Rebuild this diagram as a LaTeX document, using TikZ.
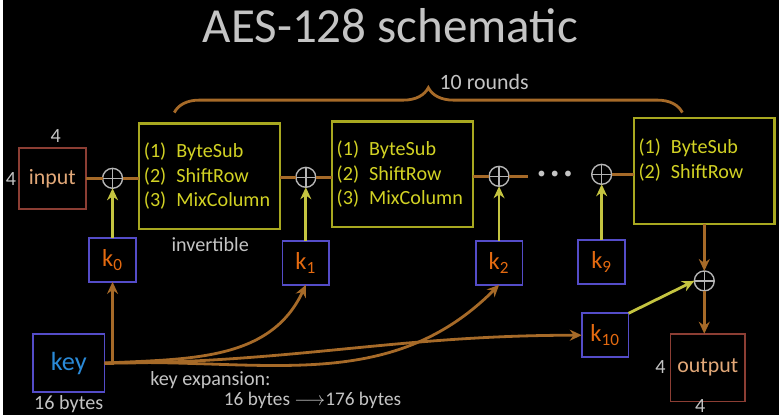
\documentclass[tikz,border=0pt]{standalone}
\usepackage{fontspec}
\setmainfont{Carlito}
\usetikzlibrary{arrows.meta,decorations.pathreplacing}
\definecolor{linkbrown}{RGB}{166,106,40}
\definecolor{arrowyellow}{RGB}{196,196,64}
\definecolor{boxred}{RGB}{140,62,52}
\definecolor{keyblue}{RGB}{84,76,200}
\definecolor{roundyellow}{RGB}{168,168,32}
\definecolor{textyellow}{RGB}{210,210,36}
\definecolor{korange}{RGB}{228,106,16}
\definecolor{keytext}{RGB}{42,138,216}
\definecolor{peach}{RGB}{226,168,120}
\definecolor{labelgray}{RGB}{196,196,196}
\definecolor{xorgray}{RGB}{180,180,180}

\begin{document}
\begin{tikzpicture}[x=0.2mm, y=-0.2mm, every node/.style={outer sep=0pt},
  statebox/.style={draw=boxred, line width=1pt, text=peach, font=\fontsize{12.5}{15}\selectfont},
  keybox/.style={draw=keyblue, line width=1pt, minimum width=9.4mm, minimum height=8.8mm, text=korange, font=\fontsize{14}{16}\selectfont},
  roundbox/.style={draw=roundyellow, line width=1.2pt, minimum width=28.2mm, minimum height=21.2mm, inner xsep=0.6mm, text width=26.4mm, align=flush left, text=textyellow, font=\fontsize{11.5}{14}\selectfont, execute at begin node={\hyphenpenalty=10000 }},
  xorop/.style={circle, draw=xorgray, line width=0.8pt, minimum size=4mm, path picture={
    \draw[xorgray, line width=0.8pt] (path picture bounding box.north) -- (path picture bounding box.south)
      (path picture bounding box.west) -- (path picture bounding box.east);}},
  link/.style={draw=linkbrown, line width=1.6pt},
  keyarrow/.style={draw=arrowyellow, line width=1.6pt, -{Stealth[length=2.4mm, width=2.2mm]}},
  keylink/.style={draw=linkbrown, line width=1.6pt, -{Stealth[length=2.4mm, width=2.2mm]}},
  note/.style={text=labelgray, font=\fontsize{11.5}{14}\selectfont}]
\fill[black] (0,0) rectangle (779,417);

\node[text=labelgray, font=\fontsize{28}{32}\selectfont] (title) at (389,26) {AES-128 schematic};

\node[statebox, minimum width=13.4mm, minimum height=12.2mm] (input) at (49.5,179) {input};
\node[note] (inrows) at (8,180) {4};
\node[note] (incols) at (53,137) {4};

\node[xorop] (x1) at (110,179) {};
\node[roundbox] (r1) at (207.5,177) {(1)\hspace{0.5em}ByteSub\\(2)\hspace{0.5em}ShiftRow\\(3)\hspace{0.5em}MixColumn};
\node[note] (inv) at (208,246) {invertible};
\node[xorop] (x2) at (304,178) {};
\node[roundbox] (r2) at (401,175) {(1)\hspace{0.5em}ByteSub\\(2)\hspace{0.5em}ShiftRow\\(3)\hspace{0.5em}MixColumn};
\node[xorop] (x3) at (498,177) {};
\coordinate (x3end) at (527,177);
\node[note, font=\fontsize{8}{10}\selectfont] (dots) at (554,175) {$\bullet\,\bullet\,\bullet$};
\node[xorop] (x4) at (601,175) {};
\node[roundbox] (r3) at (704,171.5) {(1)\hspace{0.5em}ByteSub\\(2)\hspace{0.5em}ShiftRow\\\mbox{}};
\node[xorop] (x5) at (704,282) {};

\node[statebox, minimum width=15mm, minimum height=13.6mm] (out) at (707.5,369) {output};
\node[note] (outrows) at (660,368) {4};
\node[note] (outcols) at (700,408) {4};

\node[keybox] (k0) at (110,261) {k\textsubscript{0}};
\node[keybox] (k1) at (304,264) {k\textsubscript{1}};
\node[keybox] (k2) at (498,264) {k\textsubscript{2}};
\node[keybox] (k9) at (601,263) {k\textsubscript{9}};
\node[keybox] (k10) at (604.5,336.5) {k\textsubscript{10}};

\node[draw=keyblue, line width=1pt, minimum width=14.4mm, minimum height=11.6mm, text=keytext, font=\fontsize{15}{18}\selectfont] (key) at (66,364.5) {key};
\node[note] (keysize) at (66,406) {16 bytes};
\node[note, anchor=west] (expand) at (142,382) {key expansion:};
\node[note, anchor=west, font=\fontsize{11}{13}\selectfont] (expsize) at (216,402) {16 bytes $\longrightarrow$176 bytes};

\draw[link, decorate, decoration={brace, amplitude=5mm}] (172,113) -- (682,113);
\node[note, font=\fontsize{12.5}{15}\selectfont] (rounds) at (483,82) {10 rounds};

\draw[link] (input.east) -- (x1.west);
\draw[link] (x1.east) -- (x1.east -| r1.west);
\draw[link] (x2.west -| r1.east) -- (x2.west);
\draw[link] (x2.east) -- (x2.east -| r2.west);
\draw[link] (x3.west -| r2.east) -- (x3.west);
\draw[link] (x3.east) -- (x3end);
\draw[link] (x4.east) -- (x4.east -| r3.west);
\draw[keylink] (r3.south) -- (x5.north);
\draw[keylink] (x5.south) -- (x5.south |- out.north);

\draw[keyarrow] (k0.north) -- (x1.south);
\draw[keyarrow] (k1.north) -- (x2.south);
\draw[keyarrow] (k2.north) -- (x3.south);
\draw[keyarrow] (k9.north) -- (x4.south);
\draw[keyarrow] (k10.north east) -- (x5.west);

\draw[keylink] (key.east) -| (k0.south);
\draw[keylink] (key.east) to[out=3, in=-115] (k1.south);
\draw[keylink] (key.east) to[out=2, in=-135] (k2.south);
\draw[keylink] (key.east) to[out=0, in=180] (k10.west);
\end{tikzpicture}
\end{document}
